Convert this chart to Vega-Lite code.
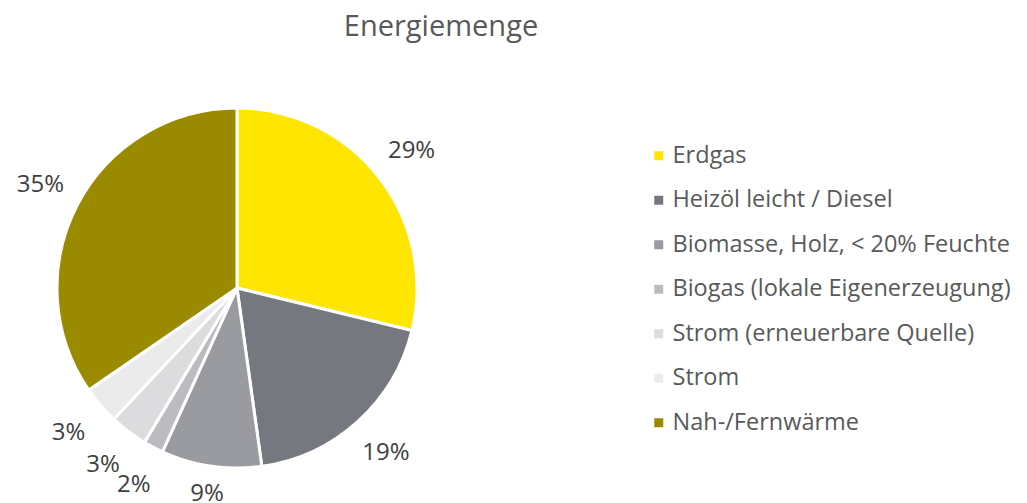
{
  "$schema": "https://vega.github.io/schema/vega-lite/v6.json",
  "width": 474,
  "height": 456,
  "autosize": "none",
  "padding": {"top": 60, "left": 0, "right": 553, "bottom": 0},
  "background": "white",
  "title": {
    "text": "Energiemenge",
    "font": "Open Sans",
    "fontSize": 29,
    "fontWeight": "normal",
    "color": "#595959",
    "anchor": "middle",
    "frame": "group",
    "dx": 204,
    "baseline": "alphabetic",
    "offset": -5
  },
  "data": {
    "values": [
      {"idx": 1, "cat": "Erdgas", "share": 0.288},
      {"idx": 2, "cat": "Heizöl leicht / Diesel", "share": 0.19},
      {"idx": 3, "cat": "Biomasse, Holz, < 20% Feuchte", "share": 0.09},
      {"idx": 4, "cat": "Biogas (lokale Eigenerzeugung)", "share": 0.018},
      {"idx": 5, "cat": "Strom (erneuerbare Quelle)", "share": 0.034},
      {"idx": 6, "cat": "Strom", "share": 0.034},
      {"idx": 7, "cat": "Nah-/Fernwärme", "share": 0.346}
    ]
  },
  "encoding": {
    "theta": {"field": "share", "type": "quantitative", "stack": true},
    "order": {"field": "idx", "type": "quantitative"},
    "color": {
      "field": "cat",
      "type": "nominal",
      "scale": {
        "domain": ["Erdgas", "Heizöl leicht / Diesel", "Biomasse, Holz, < 20% Feuchte", "Biogas (lokale Eigenerzeugung)", "Strom (erneuerbare Quelle)", "Strom", "Nah-/Fernwärme"],
        "range": ["#FFE600", "#76787F", "#9A9AA1", "#BBBCC0", "#DCDCDE", "#EBEBEC", "#9A8A00"]
      },
      "legend": {
        "title": null,
        "orient": "none",
        "legendX": 647,
        "legendY": 84,
        "symbolType": "square",
        "symbolSize": 81,
        "symbolStrokeWidth": 0,
        "labelFont": "Open Sans",
        "labelFontWeight": "normal",
        "labelFontSize": 23.5,
        "labelColor": "#595959",
        "labelOffset": 2,
        "rowPadding": 19.5,
        "labelLimit": 400,
        "padding": 0
      }
    }
  },
  "layer": [
    {
      "mark": {"type": "arc", "outerRadius": 180, "stroke": "white", "strokeWidth": 3}
    },
    {
      "mark": {
        "type": "text",
        "radius": {"expr": "min(222, 206 / max(0.01, abs(cos(PI * (datum.share_start + datum.share_end)))))"},
        "font": "Open Sans",
        "fontSize": 24,
        "align": "center",
        "baseline": "middle"
      },
      "encoding": {
        "text": {"field": "share", "type": "quantitative", "format": ".0%"},
        "color": {"value": "#404040"}
      }
    }
  ],
  "config": {"view": {"stroke": null}}
}
